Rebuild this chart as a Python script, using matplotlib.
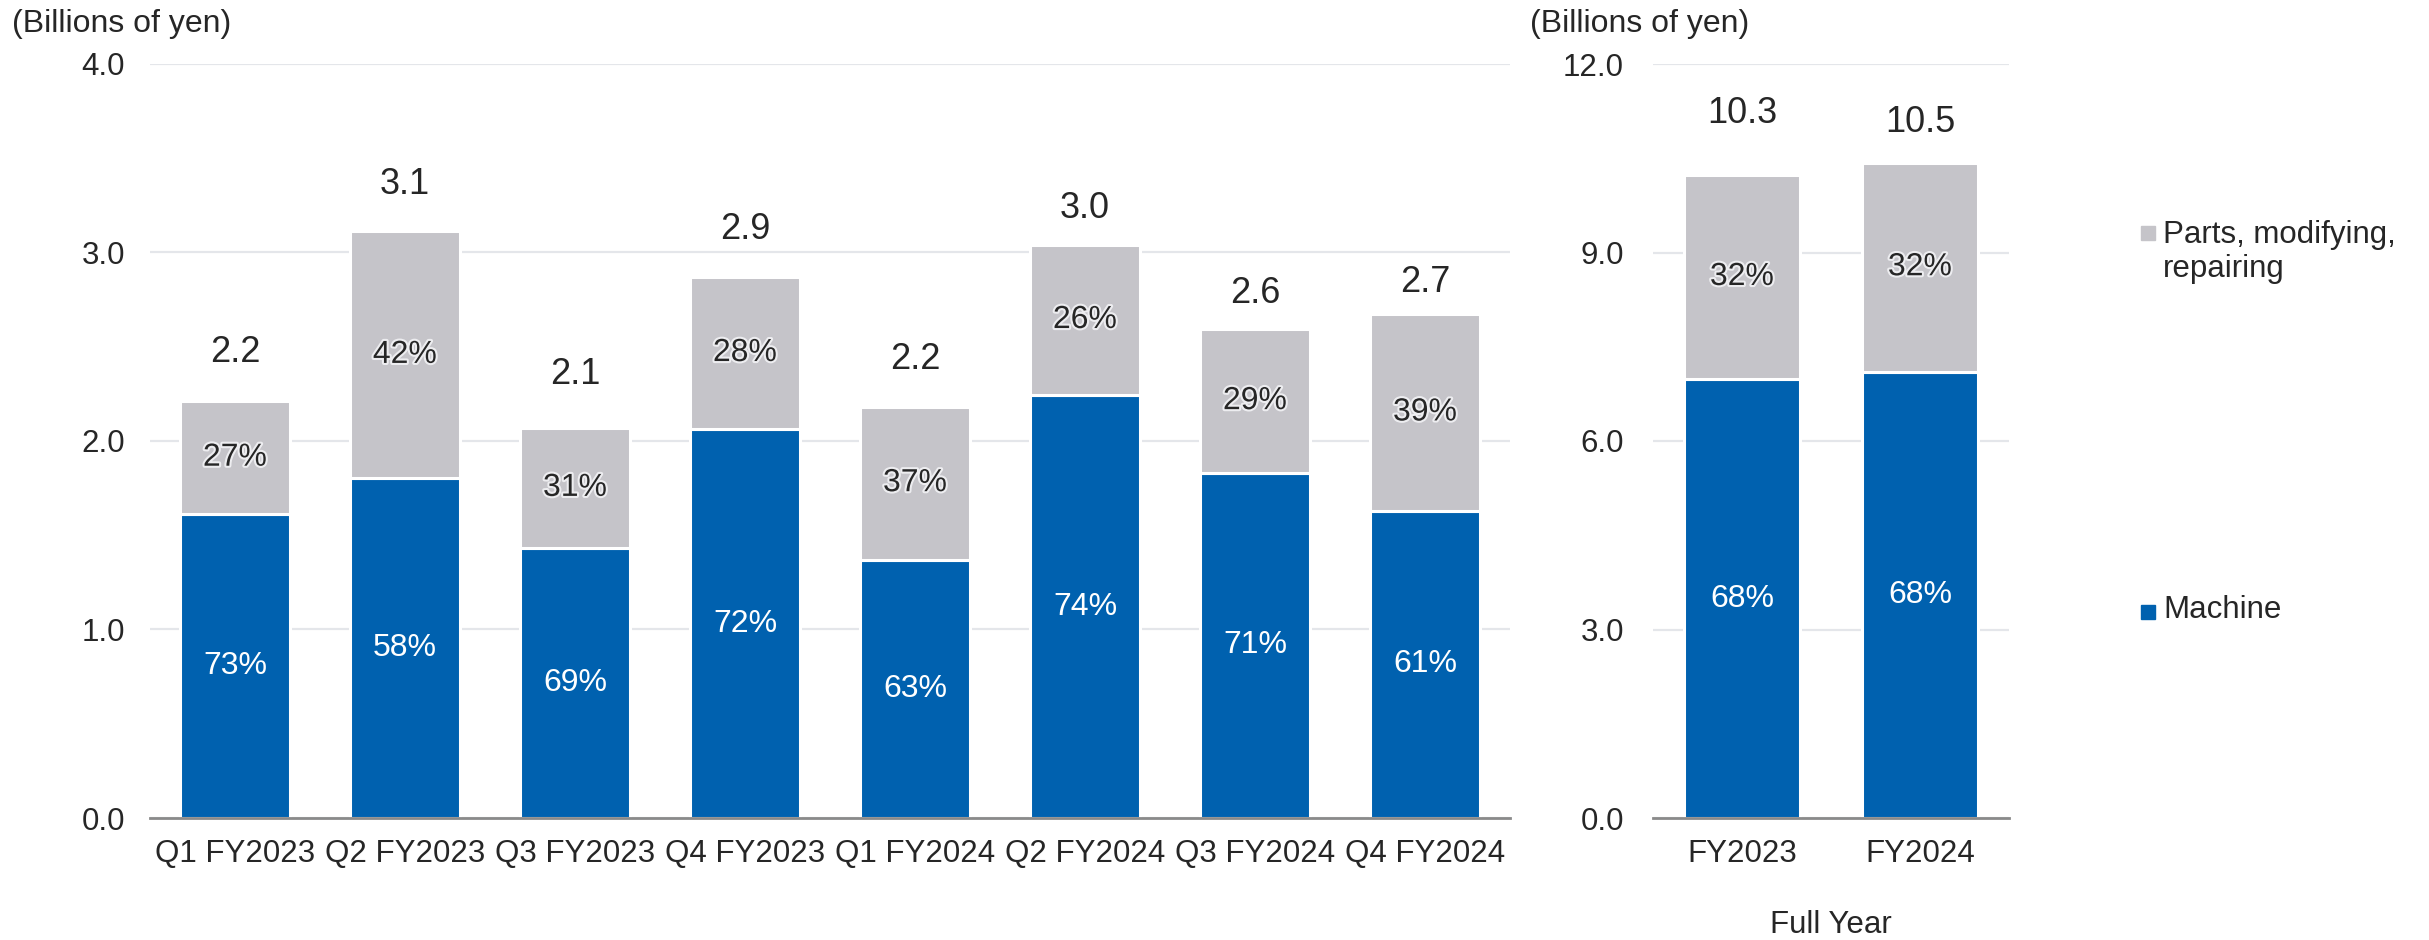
import matplotlib
matplotlib.use('Agg')
import matplotlib.pyplot as plt
import matplotlib.patheffects as pe
from matplotlib.patches import Rectangle
import numpy as np

plt.rcParams['font.family'] = ['Liberation Sans', 'DejaVu Sans']

# quarterly data (billions of yen)
quarters = ['Q1 FY2023', 'Q2 FY2023', 'Q3 FY2023', 'Q4 FY2023',
            'Q1 FY2024', 'Q2 FY2024', 'Q3 FY2024', 'Q4 FY2024']
machine_q = [1.61, 1.80, 1.43, 2.06, 1.37, 2.24, 1.83, 1.63]
total_q = [2.21, 3.11, 2.07, 2.87, 2.18, 3.04, 2.59, 2.67]
total_q_lbl = ['2.2', '3.1', '2.1', '2.9', '2.2', '3.0', '2.6', '2.7']
machine_q_pct = ['73%', '58%', '69%', '72%', '63%', '74%', '71%', '61%']
parts_q_pct = ['27%', '42%', '31%', '28%', '37%', '26%', '29%', '39%']

# full year data
years = ['FY2023', 'FY2024']
machine_y = [6.98, 7.10]
total_y = [10.24, 10.43]
total_y_lbl = ['10.3', '10.5']
machine_y_pct = ['68%', '68%']
parts_y_pct = ['32%', '32%']

BLUE = '#0061AF'
GRAY = '#C5C4C9'
TXT = '#262626'
GRID = '#E4E6EA'

parts_q = [t - m for t, m in zip(total_q, machine_q)]
parts_y = [t - m for t, m in zip(total_y, machine_y)]

fig = plt.figure(figsize=(24.29, 9.4), dpi=100)
ax1 = fig.add_axes([150 / 2429, 1 - 818 / 940, 1360 / 2429, 754.5 / 940])
ax2 = fig.add_axes([1653 / 2429, 1 - 818 / 940, 356 / 2429, 754 / 940])

halo = [pe.withStroke(linewidth=3, foreground='#ededf0')]


def draw_panel(ax, labels, machine, parts, totals, tot_lbl, m_pct, p_pct,
               ymax, yticks, lbl_off, ypad):
    x = np.arange(len(labels))
    ax.bar(x, machine, width=0.65, color=BLUE, edgecolor='white', linewidth=2.2, zorder=3)
    ax.bar(x, parts, width=0.65, bottom=machine, color=GRAY, edgecolor='white',
           linewidth=2.2, zorder=3)
    for i in x:
        ax.text(i, machine[i] / 2, m_pct[i], ha='center', va='center',
                color='white', fontsize=23, zorder=4)
        ax.text(i, machine[i] + parts[i] / 2, p_pct[i], ha='center', va='center',
                color=TXT, fontsize=23, zorder=4, path_effects=halo)
        ax.annotate(tot_lbl[i], (i, totals[i]), xytext=(0, lbl_off[i]),
                    textcoords='offset points', ha='center', va='center',
                    color=TXT, fontsize=26)
    ax.set_xlim(-0.5, len(labels) - 0.5)
    ax.set_ylim(0, ymax)
    ax.set_yticks(yticks)
    ax.set_yticklabels([f'{v:.1f}' for v in yticks])
    ax.set_xticks(x)
    ax.set_xticklabels(labels)
    ax.tick_params(axis='both', length=0, labelsize=22.5, colors=TXT)
    ax.tick_params(axis='x', pad=15)
    ax.tick_params(axis='y', pad=ypad)
    ax.grid(axis='y', color=GRID, linewidth=1.6, zorder=0)
    ax.set_axisbelow(True)
    for s in ['top', 'right', 'left']:
        ax.spines[s].set_visible(False)
    ax.spines['bottom'].set_color('#8a8a8a')
    ax.spines['bottom'].set_linewidth(2)
    ax.spines['bottom'].set_zorder(5)


draw_panel(ax1, quarters, machine_q, parts_q, total_q, total_q_lbl,
           machine_q_pct, parts_q_pct, 4.0, [0, 1, 2, 3, 4],
           [35, 34, 38, 34, 34, 26, 26, 23], 18)
draw_panel(ax2, years, machine_y, parts_y, total_y, total_y_lbl,
           machine_y_pct, parts_y_pct, 12.0, [0, 3, 6, 9, 12],
           [44, 29], 21)

fig.text(12 / 2429, 1 - 24 / 940, '(Billions of yen)', fontsize=23, color=TXT,
         ha='left', va='center')
fig.text(1530 / 2429, 1 - 24 / 940, '(Billions of yen)', fontsize=23, color=TXT,
         ha='left', va='center')
fig.text(1831 / 2429, 1 - 925 / 940, 'Full Year', fontsize=22.5, color=TXT,
         ha='center', va='center')

# legend, drawn by hand to keep the wide spacing of the original
sq = 14
fig.add_artist(Rectangle((2141 / 2429, 1 - 240 / 940), sq / 2429, sq / 940,
                         transform=fig.transFigure, color=GRAY))
fig.text(2163 / 2429, 1 - 252 / 940, 'Parts, modifying,\nrepairing', fontsize=22.5,
         color=TXT, ha='left', va='center', linespacing=1.2)
fig.add_artist(Rectangle((2141 / 2429, 1 - 619 / 940), sq / 2429, sq / 940,
                         transform=fig.transFigure, color=BLUE))
fig.text(2163 / 2429, 1 - 610 / 940, 'Machine', fontsize=22.5, color=TXT,
         ha='left', va='center')

fig.savefig('out.png', dpi=100, facecolor='white')
